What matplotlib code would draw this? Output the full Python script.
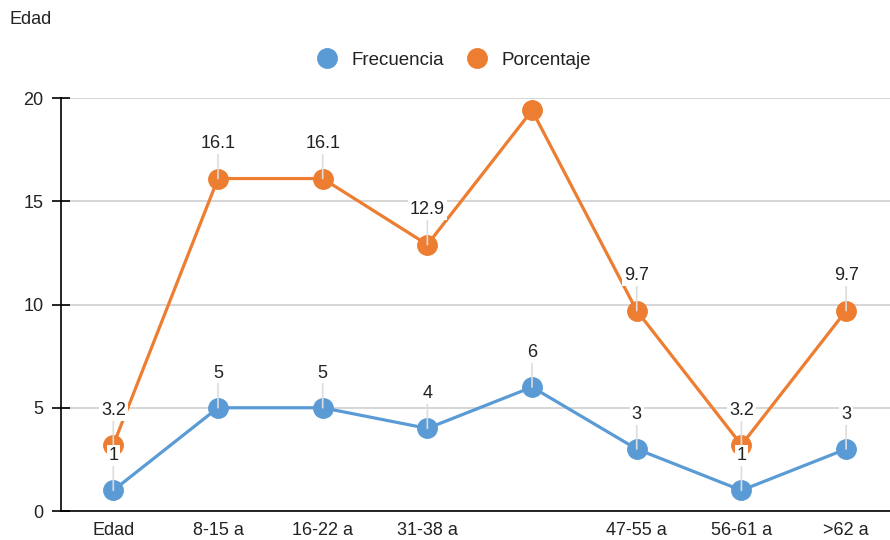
import matplotlib
matplotlib.use("Agg")
import matplotlib.pyplot as plt
from matplotlib.lines import Line2D

# age groups (the fifth tick label is not shown on the axis)
categorias = ["Edad", "8-15 a", "16-22 a", "31-38 a", "39-46 a", "47-55 a", "56-61 a", ">62 a"]
etiquetas_x = ["Edad", "8-15 a", "16-22 a", "31-38 a", "", "47-55 a", "56-61 a", ">62 a"]
frecuencia = [1, 5, 5, 4, 6, 3, 1, 3]
porcentaje = [3.2, 16.1, 16.1, 12.9, 19.4, 9.7, 3.2, 9.7]
# which point labels end up visible
mostrar_frec = [True] * 8
mostrar_pct = [True, True, True, True, False, True, True, True]
y_ticks = [0, 5, 10, 15, 20]

AZUL = "#5b9bd5"
NARANJA = "#ed7d31"
TEXTO = "#222222"
FS = 13

plt.rcParams["font.family"] = ["Liberation Sans", "DejaVu Sans"]

fig = plt.figure(figsize=(8.9, 5.4), dpi=100)
ax = fig.add_axes([0.0685, 0.0537, 0.941, 0.7648])

x = list(range(len(categorias)))
ax.plot(x, frecuencia, color=AZUL, lw=2.3, marker="o", ms=14, zorder=3)
ax.plot(x, porcentaje, color=NARANJA, lw=2.3, marker="o", ms=14, zorder=3)


def etiquetar(valores, mostrar):
    for xi, v, m in zip(x, valores, mostrar):
        if not m:
            continue
        ax.annotate(f"{v:g}", xy=(xi, v), xytext=(0, 25), textcoords="offset points",
                    ha="center", va="center", fontsize=FS, color=TEXTO, zorder=5,
                    bbox=dict(boxstyle="square,pad=0.1", fc="white", ec="none"),
                    arrowprops=dict(arrowstyle="-", color="#dddddd", lw=1.2,
                                    shrinkA=0, shrinkB=0))


etiquetar(frecuencia, mostrar_frec)
etiquetar(porcentaje, mostrar_pct)

ax.set_xlim(-0.5, len(categorias) - 0.5)
ax.set_ylim(0, 20)
ax.set_yticks(y_ticks)
ax.set_xticks(x)
ax.set_xticklabels(etiquetas_x)
ax.yaxis.grid(True, color="#d0d0d0", lw=1.2, zorder=0)
ax.set_axisbelow(True)

for s in ["top", "right"]:
    ax.spines[s].set_visible(False)
for s in ["left", "bottom"]:
    ax.spines[s].set_color("black")
    ax.spines[s].set_linewidth(1.2)

ax.tick_params(axis="y", direction="inout", length=13, width=1.2, pad=6,
               labelsize=FS, labelcolor=TEXTO)
ax.tick_params(axis="x", length=0, pad=8, labelsize=FS, labelcolor=TEXTO)

fig.text(0.011, 0.964, "Edad", ha="left", va="center", fontsize=FS, color=TEXTO)

handles = [
    Line2D([], [], ls="none", marker="o", ms=14, color=AZUL, label="Frecuencia"),
    Line2D([], [], ls="none", marker="o", ms=14, color=NARANJA, label="Porcentaje"),
]
fig.legend(handles=handles, loc="center", bbox_to_anchor=(0.505, 0.889), ncol=2,
           frameon=False, fontsize=13.5, handletextpad=0.3, columnspacing=0.75,
           labelcolor=TEXTO)

fig.savefig("out.png", dpi=100)
